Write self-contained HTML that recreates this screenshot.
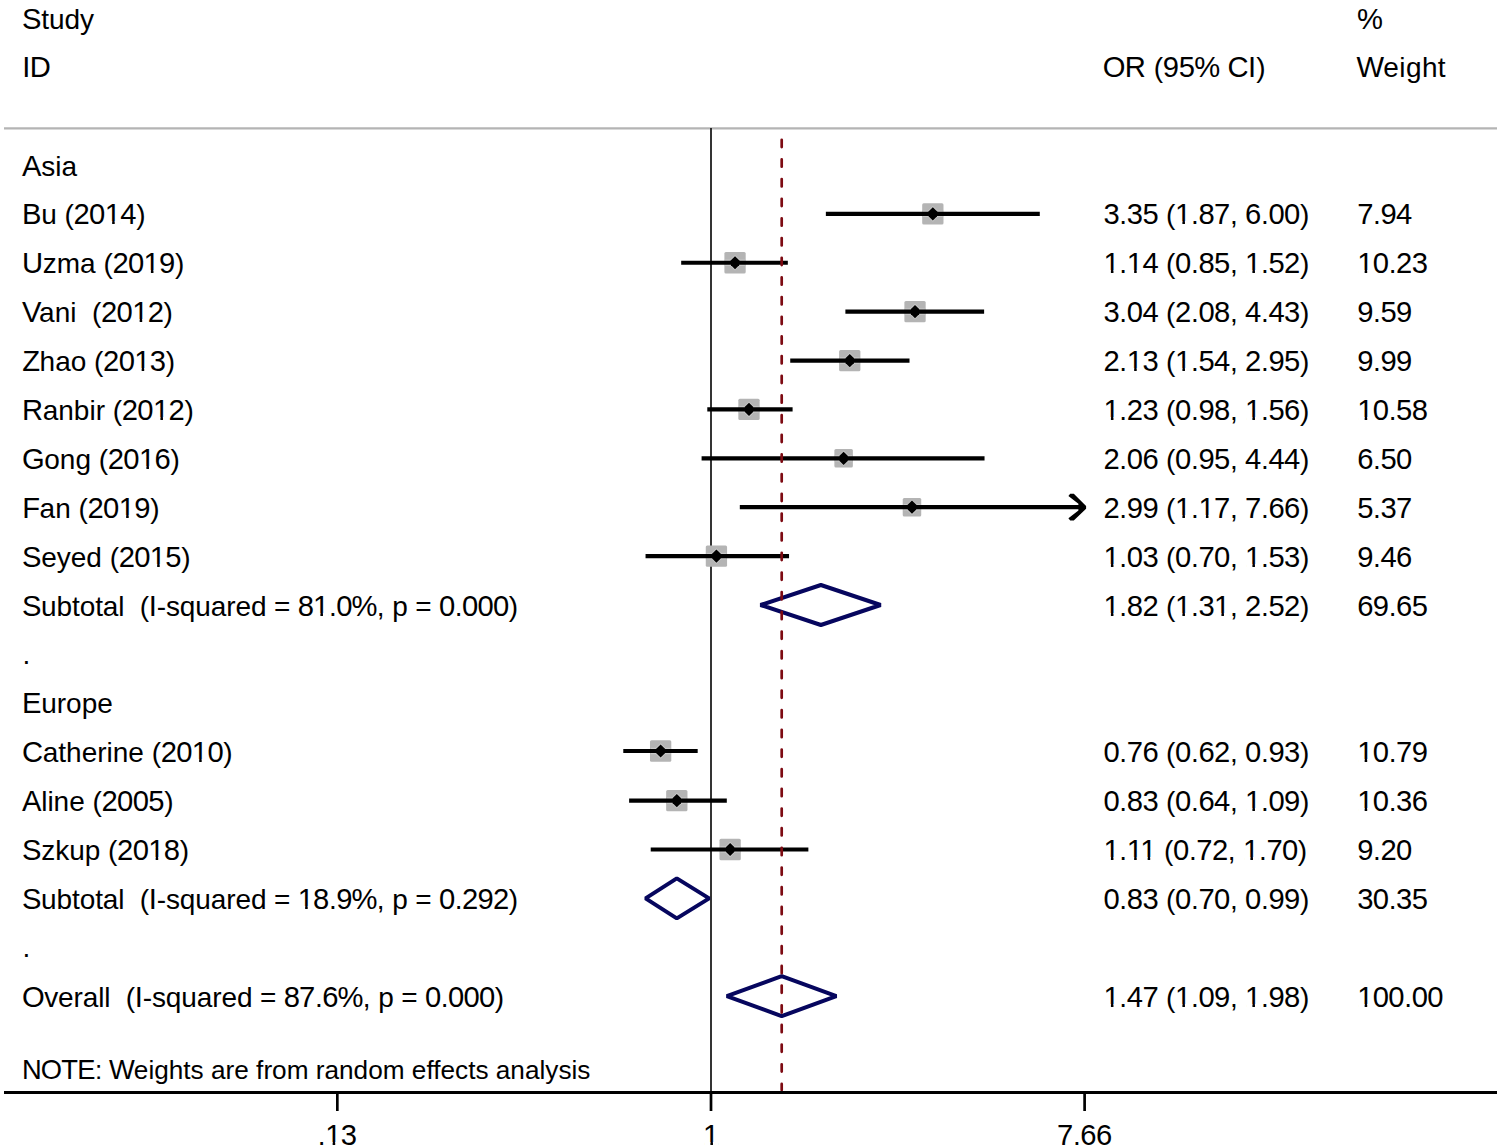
<!DOCTYPE html>
<html><head><meta charset="utf-8"><style>
html,body{margin:0;padding:0;background:#fff;overflow:hidden;}
svg{display:block;}
text{font-family:"Liberation Sans",sans-serif;fill:#000;white-space:pre;}
</style></head><body>
<svg width="1498" height="1148" viewBox="0 0 1498 1148">
<rect width="1498" height="1148" fill="#fff"/>
<line x1="4" y1="128.4" x2="1497" y2="128.4" stroke="#b4b4b4" stroke-width="2.2"/>
<line x1="711.00" y1="128" x2="711.00" y2="1092" stroke="#1e1e1e" stroke-width="1.8"/>
<rect x="922.19" y="203.19" width="21.3" height="21.3" rx="1.5" fill="#b4b4b4"/>
<rect x="724.39" y="252.09" width="21.3" height="21.3" rx="1.5" fill="#b4b4b4"/>
<rect x="904.38" y="300.99" width="21.3" height="21.3" rx="1.5" fill="#b4b4b4"/>
<rect x="839.10" y="349.88" width="21.3" height="21.3" rx="1.5" fill="#b4b4b4"/>
<rect x="738.34" y="398.78" width="21.3" height="21.3" rx="1.5" fill="#b4b4b4"/>
<rect x="834.37" y="449.07" width="18.5" height="18.5" rx="1.5" fill="#b4b4b4"/>
<rect x="902.73" y="497.97" width="18.5" height="18.5" rx="1.5" fill="#b4b4b4"/>
<rect x="705.77" y="545.46" width="21.3" height="21.3" rx="1.5" fill="#b4b4b4"/>
<rect x="649.99" y="740.35" width="21.3" height="21.3" rx="1.5" fill="#b4b4b4"/>
<rect x="666.16" y="789.94" width="21.3" height="21.3" rx="1.5" fill="#b4b4b4"/>
<rect x="719.50" y="838.83" width="21.3" height="21.3" rx="1.5" fill="#b4b4b4"/>
<line x1="922.99" y1="213.84" x2="942.69" y2="213.84" stroke="#c9c9c9" stroke-width="6.4"/>
<path d="M932.84,206.04 L938.14,211.25 L938.54,213.84 L938.14,216.44 L932.84,221.65 L927.54,216.44 L927.14,213.84 L927.54,211.25Z" fill="#c9c9c9"/>
<line x1="725.19" y1="262.74" x2="744.89" y2="262.74" stroke="#c9c9c9" stroke-width="6.4"/>
<path d="M735.04,254.94 L740.34,260.14 L740.74,262.74 L740.34,265.34 L735.04,270.54 L729.74,265.34 L729.34,262.74 L729.74,260.14Z" fill="#c9c9c9"/>
<line x1="905.18" y1="311.63" x2="924.88" y2="311.63" stroke="#c9c9c9" stroke-width="6.4"/>
<path d="M915.03,303.83 L920.33,309.03 L920.73,311.63 L920.33,314.24 L915.03,319.44 L909.73,314.24 L909.33,311.63 L909.73,309.03Z" fill="#c9c9c9"/>
<line x1="839.90" y1="360.53" x2="859.60" y2="360.53" stroke="#c9c9c9" stroke-width="6.4"/>
<path d="M849.75,352.73 L855.05,357.93 L855.45,360.53 L855.05,363.13 L849.75,368.33 L844.45,363.13 L844.05,360.53 L844.45,357.93Z" fill="#c9c9c9"/>
<line x1="739.14" y1="409.43" x2="758.84" y2="409.43" stroke="#c9c9c9" stroke-width="6.4"/>
<path d="M748.99,401.62 L754.29,406.82 L754.69,409.43 L754.29,412.03 L748.99,417.23 L743.69,412.03 L743.29,409.43 L743.69,406.82Z" fill="#c9c9c9"/>
<line x1="835.17" y1="458.32" x2="852.07" y2="458.32" stroke="#c9c9c9" stroke-width="6.4"/>
<path d="M843.62,450.52 L848.92,455.72 L849.32,458.32 L848.92,460.92 L843.62,466.12 L838.32,460.92 L837.92,458.32 L838.32,455.72Z" fill="#c9c9c9"/>
<line x1="903.53" y1="507.22" x2="920.43" y2="507.22" stroke="#c9c9c9" stroke-width="6.4"/>
<path d="M911.98,499.42 L917.28,504.62 L917.68,507.22 L917.28,509.82 L911.98,515.01 L906.68,509.82 L906.28,507.22 L906.68,504.62Z" fill="#c9c9c9"/>
<line x1="706.57" y1="556.11" x2="726.27" y2="556.11" stroke="#c9c9c9" stroke-width="6.4"/>
<path d="M716.42,548.31 L721.72,553.51 L722.12,556.11 L721.72,558.71 L716.42,563.91 L711.12,558.71 L710.72,556.11 L711.12,553.51Z" fill="#c9c9c9"/>
<line x1="650.79" y1="751.00" x2="670.49" y2="751.00" stroke="#c9c9c9" stroke-width="6.4"/>
<path d="M660.64,743.20 L665.94,748.40 L666.34,751.00 L665.94,753.60 L660.64,758.80 L655.34,753.60 L654.94,751.00 L655.34,748.40Z" fill="#c9c9c9"/>
<line x1="666.96" y1="800.59" x2="686.66" y2="800.59" stroke="#c9c9c9" stroke-width="6.4"/>
<path d="M676.81,792.79 L682.11,797.99 L682.51,800.59 L682.11,803.19 L676.81,808.38 L671.51,803.19 L671.11,800.59 L671.51,797.99Z" fill="#c9c9c9"/>
<line x1="720.30" y1="849.48" x2="740.00" y2="849.48" stroke="#c9c9c9" stroke-width="6.4"/>
<path d="M730.15,841.68 L735.45,846.88 L735.85,849.48 L735.45,852.08 L730.15,857.28 L724.85,852.08 L724.45,849.48 L724.85,846.88Z" fill="#c9c9c9"/>
<line x1="825.86" y1="213.84" x2="1039.79" y2="213.84" stroke="#000" stroke-width="4.2"/>
<line x1="681.18" y1="262.74" x2="787.83" y2="262.74" stroke="#000" stroke-width="4.2"/>
<line x1="845.39" y1="311.63" x2="984.12" y2="311.63" stroke="#000" stroke-width="4.2"/>
<line x1="790.23" y1="360.53" x2="909.51" y2="360.53" stroke="#000" stroke-width="4.2"/>
<line x1="707.29" y1="409.43" x2="792.60" y2="409.43" stroke="#000" stroke-width="4.2"/>
<line x1="701.59" y1="458.32" x2="984.54" y2="458.32" stroke="#000" stroke-width="4.2"/>
<line x1="739.81" y1="507.22" x2="1080.00" y2="507.22" stroke="#000" stroke-width="4.2"/>
<polygon points="1068.40,496.02 1070.20,493.82 1073.80,493.82 1086.10,505.92 1086.10,508.72 1073.80,520.42 1070.20,520.42 1068.40,518.22 1078.40,510.62 1078.40,503.82" fill="#000"/>
<line x1="645.55" y1="556.11" x2="789.04" y2="556.11" stroke="#000" stroke-width="4.2"/>
<line x1="623.28" y1="751.00" x2="697.68" y2="751.00" stroke="#000" stroke-width="4.2"/>
<line x1="629.11" y1="800.59" x2="726.81" y2="800.59" stroke="#000" stroke-width="4.2"/>
<line x1="650.72" y1="849.48" x2="808.37" y2="849.48" stroke="#000" stroke-width="4.2"/>
<path d="M932.84,207.25 L936.94,211.25 L937.34,213.84 L936.94,216.44 L932.84,220.44 L928.74,216.44 L928.34,213.84 L928.74,211.25Z" fill="#000"/>
<path d="M735.04,256.14 L739.14,260.14 L739.54,262.74 L739.14,265.34 L735.04,269.34 L730.94,265.34 L730.54,262.74 L730.94,260.14Z" fill="#000"/>
<path d="M915.03,305.03 L919.13,309.03 L919.53,311.63 L919.13,314.24 L915.03,318.24 L910.93,314.24 L910.53,311.63 L910.93,309.03Z" fill="#000"/>
<path d="M849.75,353.93 L853.85,357.93 L854.25,360.53 L853.85,363.13 L849.75,367.13 L845.65,363.13 L845.25,360.53 L845.65,357.93Z" fill="#000"/>
<path d="M748.99,402.82 L753.09,406.82 L753.49,409.43 L753.09,412.03 L748.99,416.03 L744.89,412.03 L744.49,409.43 L744.89,406.82Z" fill="#000"/>
<path d="M843.62,451.72 L847.72,455.72 L848.12,458.32 L847.72,460.92 L843.62,464.92 L839.52,460.92 L839.12,458.32 L839.52,455.72Z" fill="#000"/>
<path d="M911.98,500.62 L916.08,504.62 L916.48,507.22 L916.08,509.82 L911.98,513.82 L907.88,509.82 L907.48,507.22 L907.88,504.62Z" fill="#000"/>
<path d="M716.42,549.51 L720.52,553.51 L720.92,556.11 L720.52,558.71 L716.42,562.71 L712.32,558.71 L711.92,556.11 L712.32,553.51Z" fill="#000"/>
<path d="M660.64,744.40 L664.74,748.40 L665.14,751.00 L664.74,753.60 L660.64,757.60 L656.54,753.60 L656.14,751.00 L656.54,748.40Z" fill="#000"/>
<path d="M676.81,793.99 L680.91,797.99 L681.31,800.59 L680.91,803.19 L676.81,807.19 L672.71,803.19 L672.31,800.59 L672.71,797.99Z" fill="#000"/>
<path d="M730.15,842.88 L734.25,846.88 L734.65,849.48 L734.25,852.08 L730.15,856.08 L726.05,852.08 L725.65,849.48 L726.05,846.88Z" fill="#000"/>
<polygon points="760.55,605.00 820.89,585.00 880.60,605.00 820.89,625.00" fill="none" stroke="#06065e" stroke-width="4.0" stroke-linejoin="bevel"/>
<polygon points="645.55,898.38 676.81,878.38 709.16,898.38 676.81,918.38" fill="none" stroke="#06065e" stroke-width="4.0" stroke-linejoin="bevel"/>
<polygon points="726.81,996.16 781.70,976.16 836.35,996.16 781.70,1016.16" fill="none" stroke="#06065e" stroke-width="4.0" stroke-linejoin="bevel"/>
<line x1="781.70" y1="139.75" x2="781.70" y2="1090" stroke="#7d0a12" stroke-width="2.7" stroke-linecap="round" stroke-dasharray="7.3 12.37"/>
<line x1="4" y1="1092.4" x2="1497" y2="1092.4" stroke="#000" stroke-width="3"/>
<line x1="337.32" y1="1092" x2="337.32" y2="1111" stroke="#000" stroke-width="2.7"/>
<line x1="711.00" y1="1092" x2="711.00" y2="1111" stroke="#000" stroke-width="2.7"/>
<line x1="1084.61" y1="1092" x2="1084.61" y2="1111" stroke="#000" stroke-width="2.7"/>
<text x="22.10 41.17 48.95 64.52 80.09" y="29.30" font-size="28" xml:space="preserve"><tspan font-size="29.20">S</tspan>tudy</text>
<text x="22.33 29.83" y="77.30" font-size="28" xml:space="preserve"><tspan font-size="29.20">ID</tspan></text>
<text x="1102.83 1124.84 1145.70 1153.68 1162.87 1178.64 1194.21 1219.84 1227.39 1248.08 1256.22" y="77.30" font-size="28" xml:space="preserve"><tspan font-size="29.20">OR</tspan> (<tspan font-size="29.20">95%</tspan> <tspan font-size="29.20">CI</tspan>)</text>
<text x="1356.97" y="29.30" font-size="28" xml:space="preserve"><tspan font-size="29.20">%</tspan></text>
<text x="1356.43 1383.32 1399.29 1405.92 1421.89 1437.86" y="77.30" font-size="28" xml:space="preserve"><tspan font-size="29.20">W</tspan>eight</text>
<text x="22.10 41.17 55.17 61.39" y="175.55" font-size="28" xml:space="preserve"><tspan font-size="29.20">A</tspan>sia</text>
<text x="22.50" y="663.50" font-size="28" xml:space="preserve">.</text>
<text x="22.10 41.17 56.73 66.06 81.64 97.20" y="713.40" font-size="28" xml:space="preserve"><tspan font-size="29.20">E</tspan>urope</text>
<text x="22.50" y="956.87" font-size="28" xml:space="preserve">.</text>
<text x="22.10 41.17 56.73 64.52 73.51 89.09 104.65 120.23 136.14" y="224.44" font-size="28" xml:space="preserve"><tspan font-size="29.20">B</tspan>u (<tspan font-size="29.20">2014</tspan>)</text>
<text x="1103.47 1119.36 1126.81 1142.39 1158.28 1166.07 1175.06 1190.97 1198.40 1213.98 1229.89 1237.68 1245.11 1261.02 1268.47 1284.04 1299.94" y="224.44" font-size="28" xml:space="preserve"><tspan font-size="29.20">3</tspan>.<tspan font-size="29.20">35</tspan> (<tspan font-size="29.20">1</tspan>.<tspan font-size="29.20">87</tspan>, <tspan font-size="29.20">6</tspan>.<tspan font-size="29.20">00</tspan>)</text>
<text x="1357.17 1373.06 1380.51 1396.09" y="224.44" font-size="28" xml:space="preserve"><tspan font-size="29.20">7</tspan>.<tspan font-size="29.20">94</tspan></text>
<text x="22.07 42.72 56.72 80.03 95.61 103.39 112.39 127.95 143.53 159.10 175.00" y="273.34" font-size="28" xml:space="preserve"><tspan font-size="29.20">U</tspan>zma (<tspan font-size="29.20">2019</tspan>)</text>
<text x="1103.47 1119.36 1126.81 1142.39 1158.28 1166.07 1175.06 1190.97 1198.40 1213.98 1229.89 1237.68 1245.11 1261.02 1268.47 1284.04 1299.94" y="273.34" font-size="28" xml:space="preserve"><tspan font-size="29.20">1</tspan>.<tspan font-size="29.20">14</tspan> (<tspan font-size="29.20">0</tspan>.<tspan font-size="29.20">85</tspan>, <tspan font-size="29.20">1</tspan>.<tspan font-size="29.20">52</tspan>)</text>
<text x="1357.17 1372.73 1388.64 1396.09 1411.65" y="273.34" font-size="28" xml:space="preserve"><tspan font-size="29.20">10</tspan>.<tspan font-size="29.20">23</tspan></text>
<text x="22.10 39.09 54.66 70.23 76.45 84.23 92.02 101.01 116.57 132.15 147.73 163.62" y="322.24" font-size="28" xml:space="preserve"><tspan font-size="29.20">V</tspan>ani&#160; (<tspan font-size="29.20">2012</tspan>)</text>
<text x="1103.47 1119.36 1126.81 1142.39 1158.28 1166.07 1175.06 1190.97 1198.40 1213.98 1229.89 1237.68 1245.11 1261.02 1268.47 1284.04 1299.94" y="322.24" font-size="28" xml:space="preserve"><tspan font-size="29.20">3</tspan>.<tspan font-size="29.20">04</tspan> (<tspan font-size="29.20">2</tspan>.<tspan font-size="29.20">08</tspan>, <tspan font-size="29.20">4</tspan>.<tspan font-size="29.20">43</tspan>)</text>
<text x="1357.17 1373.06 1380.51 1396.09" y="322.24" font-size="28" xml:space="preserve"><tspan font-size="29.20">9</tspan>.<tspan font-size="29.20">59</tspan></text>
<text x="22.13 39.59 55.17 70.73 86.31 94.09 103.09 118.65 134.23 149.81 165.70" y="371.13" font-size="28" xml:space="preserve"><tspan font-size="29.20">Z</tspan>hao (<tspan font-size="29.20">2013</tspan>)</text>
<text x="1103.47 1119.36 1126.81 1142.39 1158.28 1166.07 1175.06 1190.97 1198.40 1213.98 1229.89 1237.68 1245.11 1261.02 1268.47 1284.04 1299.94" y="371.13" font-size="28" xml:space="preserve"><tspan font-size="29.20">2</tspan>.<tspan font-size="29.20">13</tspan> (<tspan font-size="29.20">1</tspan>.<tspan font-size="29.20">54</tspan>, <tspan font-size="29.20">2</tspan>.<tspan font-size="29.20">95</tspan>)</text>
<text x="1357.17 1373.06 1380.51 1396.09" y="371.13" font-size="28" xml:space="preserve"><tspan font-size="29.20">9</tspan>.<tspan font-size="29.20">99</tspan></text>
<text x="22.07 42.72 58.28 73.86 89.44 95.66 104.97 112.75 121.74 137.32 152.89 168.46 184.38" y="420.03" font-size="28" xml:space="preserve"><tspan font-size="29.20">R</tspan>anbir (<tspan font-size="29.20">2012</tspan>)</text>
<text x="1103.47 1119.36 1126.81 1142.39 1158.28 1166.07 1175.06 1190.97 1198.40 1213.98 1229.89 1237.68 1245.11 1261.02 1268.47 1284.04 1299.94" y="420.03" font-size="28" xml:space="preserve"><tspan font-size="29.20">1</tspan>.<tspan font-size="29.20">23</tspan> (<tspan font-size="29.20">0</tspan>.<tspan font-size="29.20">98</tspan>, <tspan font-size="29.20">1</tspan>.<tspan font-size="29.20">56</tspan>)</text>
<text x="1357.17 1372.73 1388.64 1396.09 1411.65" y="420.03" font-size="28" xml:space="preserve"><tspan font-size="29.20">10</tspan>.<tspan font-size="29.20">58</tspan></text>
<text x="22.03 44.27 59.84 75.42 90.98 98.77 107.76 123.34 138.90 154.48 170.38" y="468.92" font-size="28" xml:space="preserve"><tspan font-size="29.20">G</tspan>ong (<tspan font-size="29.20">2016</tspan>)</text>
<text x="1103.47 1119.36 1126.81 1142.39 1158.28 1166.07 1175.06 1190.97 1198.40 1213.98 1229.89 1237.68 1245.11 1261.02 1268.47 1284.04 1299.94" y="468.92" font-size="28" xml:space="preserve"><tspan font-size="29.20">2</tspan>.<tspan font-size="29.20">06</tspan> (<tspan font-size="29.20">0</tspan>.<tspan font-size="29.20">95</tspan>, <tspan font-size="29.20">4</tspan>.<tspan font-size="29.20">44</tspan>)</text>
<text x="1357.17 1373.06 1380.51 1396.09" y="468.92" font-size="28" xml:space="preserve"><tspan font-size="29.20">6</tspan>.<tspan font-size="29.20">50</tspan></text>
<text x="22.13 39.59 55.17 70.73 78.52 87.51 103.09 118.65 134.23 150.14" y="517.82" font-size="28" xml:space="preserve"><tspan font-size="29.20">F</tspan>an (<tspan font-size="29.20">2019</tspan>)</text>
<text x="1103.47 1119.36 1126.81 1142.39 1158.28 1166.07 1175.06 1190.97 1198.40 1213.98 1229.89 1237.68 1245.11 1261.02 1268.47 1284.04 1299.94" y="517.82" font-size="28" xml:space="preserve"><tspan font-size="29.20">2</tspan>.<tspan font-size="29.20">99</tspan> (<tspan font-size="29.20">1</tspan>.<tspan font-size="29.20">17</tspan>, <tspan font-size="29.20">7</tspan>.<tspan font-size="29.20">66</tspan>)</text>
<text x="1357.17 1373.06 1380.51 1396.09" y="517.82" font-size="28" xml:space="preserve"><tspan font-size="29.20">5</tspan>.<tspan font-size="29.20">37</tspan></text>
<text x="22.10 41.17 56.73 70.73 86.31 101.89 109.67 118.65 134.23 149.81 165.37 181.28" y="566.71" font-size="28" xml:space="preserve"><tspan font-size="29.20">S</tspan>eyed (<tspan font-size="29.20">2015</tspan>)</text>
<text x="1103.47 1119.36 1126.81 1142.39 1158.28 1166.07 1175.06 1190.97 1198.40 1213.98 1229.89 1237.68 1245.11 1261.02 1268.47 1284.04 1299.94" y="566.71" font-size="28" xml:space="preserve"><tspan font-size="29.20">1</tspan>.<tspan font-size="29.20">03</tspan> (<tspan font-size="29.20">0</tspan>.<tspan font-size="29.20">70</tspan>, <tspan font-size="29.20">1</tspan>.<tspan font-size="29.20">53</tspan>)</text>
<text x="1357.17 1373.06 1380.51 1396.09" y="566.71" font-size="28" xml:space="preserve"><tspan font-size="29.20">9</tspan>.<tspan font-size="29.20">46</tspan></text>
<text x="22.07 42.72 58.28 66.06 81.64 97.20 106.53 112.75 128.33 143.91 151.67 160.67 176.24 191.81 207.39 223.30" y="762.29" font-size="28" xml:space="preserve"><tspan font-size="29.20">C</tspan>atherine (<tspan font-size="29.20">2010</tspan>)</text>
<text x="1103.47 1119.36 1126.81 1142.39 1158.28 1166.07 1175.06 1190.97 1198.40 1213.98 1229.89 1237.68 1245.11 1261.02 1268.47 1284.04 1299.94" y="762.29" font-size="28" xml:space="preserve"><tspan font-size="29.20">0</tspan>.<tspan font-size="29.20">76</tspan> (<tspan font-size="29.20">0</tspan>.<tspan font-size="29.20">62</tspan>, <tspan font-size="29.20">0</tspan>.<tspan font-size="29.20">93</tspan>)</text>
<text x="1357.17 1372.73 1388.64 1396.09 1411.65" y="762.29" font-size="28" xml:space="preserve"><tspan font-size="29.20">10</tspan>.<tspan font-size="29.20">79</tspan></text>
<text x="22.10 41.17 47.39 53.61 69.19 84.75 92.53 101.53 117.10 132.67 148.24 164.14" y="811.19" font-size="28" xml:space="preserve"><tspan font-size="29.20">A</tspan>line (<tspan font-size="29.20">2005</tspan>)</text>
<text x="1103.47 1119.36 1126.81 1142.39 1158.28 1166.07 1175.06 1190.97 1198.40 1213.98 1229.89 1237.68 1245.11 1261.02 1268.47 1284.04 1299.94" y="811.19" font-size="28" xml:space="preserve"><tspan font-size="29.20">0</tspan>.<tspan font-size="29.20">83</tspan> (<tspan font-size="29.20">0</tspan>.<tspan font-size="29.20">64</tspan>, <tspan font-size="29.20">1</tspan>.<tspan font-size="29.20">09</tspan>)</text>
<text x="1357.17 1372.73 1388.64 1396.09 1411.65" y="811.19" font-size="28" xml:space="preserve"><tspan font-size="29.20">10</tspan>.<tspan font-size="29.20">36</tspan></text>
<text x="22.10 41.17 55.17 69.17 84.73 100.31 108.09 117.09 132.65 148.23 163.81 179.70" y="860.08" font-size="28" xml:space="preserve"><tspan font-size="29.20">S</tspan>zkup (<tspan font-size="29.20">2018</tspan>)</text>
<text x="1103.47 1119.36 1126.81 1140.31 1156.21 1163.99 1172.98 1188.89 1196.33 1211.90 1227.82 1235.60 1243.03 1258.94 1266.39 1281.97 1297.86" y="860.08" font-size="28" xml:space="preserve"><tspan font-size="29.20">1</tspan>.<tspan font-size="29.20">11</tspan> (<tspan font-size="29.20">0</tspan>.<tspan font-size="29.20">72</tspan>, <tspan font-size="29.20">1</tspan>.<tspan font-size="29.20">70</tspan>)</text>
<text x="1357.17 1373.06 1380.51 1396.09" y="860.08" font-size="28" xml:space="preserve"><tspan font-size="29.20">9</tspan>.<tspan font-size="29.20">20</tspan></text>
<text x="22.10 41.08 56.55 72.02 79.70 95.17 102.84 118.31 124.44 132.11 139.79 148.84 156.68 165.90 179.80 195.27 210.74 226.21 235.43 250.90 266.37 274.04 290.30 297.64 313.11 328.91 336.25 351.52 376.86 384.53 392.20 407.67 415.35 431.60 438.94 454.75 462.09 477.56 493.03 508.83" y="615.61" font-size="28" xml:space="preserve"><tspan font-size="29.20">S</tspan>ubtotal&#160; (<tspan font-size="29.20">I</tspan>-squared = <tspan font-size="29.20">81</tspan>.<tspan font-size="29.20">0%</tspan>, p = <tspan font-size="29.20">0</tspan>.<tspan font-size="29.20">000</tspan>)</text>
<text x="1103.47 1119.36 1126.81 1142.39 1158.28 1166.07 1175.06 1190.97 1198.40 1213.98 1229.89 1237.68 1245.11 1261.02 1268.47 1284.04 1299.94" y="615.61" font-size="28" xml:space="preserve"><tspan font-size="29.20">1</tspan>.<tspan font-size="29.20">82</tspan> (<tspan font-size="29.20">1</tspan>.<tspan font-size="29.20">31</tspan>, <tspan font-size="29.20">2</tspan>.<tspan font-size="29.20">52</tspan>)</text>
<text x="1357.17 1372.73 1388.64 1396.09 1411.65" y="615.61" font-size="28" xml:space="preserve"><tspan font-size="29.20">69</tspan>.<tspan font-size="29.20">65</tspan></text>
<text x="22.10 41.08 56.55 72.02 79.70 95.17 102.84 118.31 124.44 132.11 139.79 148.84 156.68 165.90 179.80 195.27 210.74 226.21 235.43 250.90 266.37 274.04 290.30 297.64 313.11 328.91 336.25 351.52 376.86 384.53 392.20 407.67 415.35 431.60 438.94 454.75 462.09 477.56 493.03 508.83" y="908.98" font-size="28" xml:space="preserve"><tspan font-size="29.20">S</tspan>ubtotal&#160; (<tspan font-size="29.20">I</tspan>-squared = <tspan font-size="29.20">18</tspan>.<tspan font-size="29.20">9%</tspan>, p = <tspan font-size="29.20">0</tspan>.<tspan font-size="29.20">292</tspan>)</text>
<text x="1103.47 1119.36 1126.81 1142.39 1158.28 1166.07 1175.06 1190.97 1198.40 1213.98 1229.89 1237.68 1245.11 1261.02 1268.47 1284.04 1299.94" y="908.98" font-size="28" xml:space="preserve"><tspan font-size="29.20">0</tspan>.<tspan font-size="29.20">83</tspan> (<tspan font-size="29.20">0</tspan>.<tspan font-size="29.20">70</tspan>, <tspan font-size="29.20">0</tspan>.<tspan font-size="29.20">99</tspan>)</text>
<text x="1357.17 1372.73 1388.64 1396.09 1411.65" y="908.98" font-size="28" xml:space="preserve"><tspan font-size="29.20">30</tspan>.<tspan font-size="29.20">35</tspan></text>
<text x="22.03 44.17 58.06 73.53 82.75 98.22 104.34 110.47 118.14 125.81 134.86 142.70 151.92 165.81 181.28 196.74 212.21 221.43 236.90 252.37 260.04 276.29 283.63 299.09 314.90 322.23 337.50 362.83 370.50 378.18 393.64 401.32 417.57 424.90 440.71 448.04 463.51 478.98 494.78" y="1006.76" font-size="28" xml:space="preserve"><tspan font-size="29.20">O</tspan>verall&#160; (<tspan font-size="29.20">I</tspan>-squared = <tspan font-size="29.20">87</tspan>.<tspan font-size="29.20">6%</tspan>, p = <tspan font-size="29.20">0</tspan>.<tspan font-size="29.20">000</tspan>)</text>
<text x="1103.47 1119.36 1126.81 1142.39 1158.28 1166.07 1175.06 1190.97 1198.40 1213.98 1229.89 1237.68 1245.11 1261.02 1268.47 1284.04 1299.94" y="1006.76" font-size="28" xml:space="preserve"><tspan font-size="29.20">1</tspan>.<tspan font-size="29.20">47</tspan> (<tspan font-size="29.20">1</tspan>.<tspan font-size="29.20">09</tspan>, <tspan font-size="29.20">1</tspan>.<tspan font-size="29.20">98</tspan>)</text>
<text x="1357.17 1372.73 1388.31 1404.20 1411.65 1427.23" y="1006.76" font-size="28" xml:space="preserve"><tspan font-size="29.20">100</tspan>.<tspan font-size="29.20">00</tspan></text>
<text x="21.89 40.77 61.24 77.19 95.03 102.32 109.05 133.83 148.39 154.21 168.78 183.35 190.61 203.71 210.99 225.55 234.27 248.83 256.11 263.39 272.11 286.67 308.49 315.77 324.49 339.05 353.61 368.17 382.74 404.55 411.83 426.39 433.19 440.47 455.03 468.13 475.41 488.50 495.78 510.35 524.91 539.47 545.28 558.38 571.47 577.30" y="1079.00" font-size="26.2" xml:space="preserve"><tspan font-size="27.32">NOTE</tspan>: <tspan font-size="27.32">W</tspan>eights are from random effects analysis</text>
<text x="317.85 325.28 340.86" y="1144.80" font-size="28" xml:space="preserve">.<tspan font-size="29.20">13</tspan></text>
<text x="702.88" y="1144.80" font-size="28" xml:space="preserve"><tspan font-size="29.20">1</tspan></text>
<text x="1057.03 1072.92 1080.37 1095.95" y="1144.80" font-size="28" xml:space="preserve"><tspan font-size="29.20">7</tspan>.<tspan font-size="29.20">66</tspan></text>
<rect x="105.95" y="221.00" width="6.203" height="3.40" fill="#fff"/>
<rect x="114.703" y="221.00" width="5.79" height="3.40" fill="#fff"/>
<rect x="1176.20" y="221.00" width="6.203" height="3.40" fill="#fff"/>
<rect x="1184.953" y="221.00" width="5.79" height="3.40" fill="#fff"/>
<rect x="144.70" y="270.00" width="6.203" height="3.40" fill="#fff"/>
<rect x="153.453" y="270.00" width="5.79" height="3.40" fill="#fff"/>
<rect x="1104.70" y="270.00" width="6.203" height="3.40" fill="#fff"/>
<rect x="1113.453" y="270.00" width="5.79" height="3.40" fill="#fff"/>
<rect x="1127.95" y="270.00" width="6.203" height="3.40" fill="#fff"/>
<rect x="1136.703" y="270.00" width="5.79" height="3.40" fill="#fff"/>
<rect x="1246.20" y="270.00" width="6.203" height="3.40" fill="#fff"/>
<rect x="1254.953" y="270.00" width="5.79" height="3.40" fill="#fff"/>
<rect x="1358.45" y="270.00" width="6.203" height="3.40" fill="#fff"/>
<rect x="1367.203" y="270.00" width="5.79" height="3.40" fill="#fff"/>
<rect x="133.45" y="319.00" width="6.203" height="3.40" fill="#fff"/>
<rect x="142.203" y="319.00" width="5.79" height="3.40" fill="#fff"/>
<rect x="135.45" y="368.00" width="6.203" height="3.40" fill="#fff"/>
<rect x="144.203" y="368.00" width="5.79" height="3.40" fill="#fff"/>
<rect x="1127.95" y="368.00" width="6.203" height="3.40" fill="#fff"/>
<rect x="1136.703" y="368.00" width="5.79" height="3.40" fill="#fff"/>
<rect x="1176.20" y="368.00" width="6.203" height="3.40" fill="#fff"/>
<rect x="1184.953" y="368.00" width="5.79" height="3.40" fill="#fff"/>
<rect x="154.20" y="417.00" width="6.203" height="3.40" fill="#fff"/>
<rect x="162.953" y="417.00" width="5.79" height="3.40" fill="#fff"/>
<rect x="1104.70" y="417.00" width="6.203" height="3.40" fill="#fff"/>
<rect x="1113.453" y="417.00" width="5.79" height="3.40" fill="#fff"/>
<rect x="1246.20" y="417.00" width="6.203" height="3.40" fill="#fff"/>
<rect x="1254.953" y="417.00" width="5.79" height="3.40" fill="#fff"/>
<rect x="1358.45" y="417.00" width="6.203" height="3.40" fill="#fff"/>
<rect x="1367.203" y="417.00" width="5.79" height="3.40" fill="#fff"/>
<rect x="140.20" y="466.00" width="6.203" height="3.40" fill="#fff"/>
<rect x="148.953" y="466.00" width="5.79" height="3.40" fill="#fff"/>
<rect x="119.95" y="515.00" width="6.203" height="3.40" fill="#fff"/>
<rect x="128.703" y="515.00" width="5.79" height="3.40" fill="#fff"/>
<rect x="1176.20" y="515.00" width="6.203" height="3.40" fill="#fff"/>
<rect x="1184.953" y="515.00" width="5.79" height="3.40" fill="#fff"/>
<rect x="1199.70" y="515.00" width="6.203" height="3.40" fill="#fff"/>
<rect x="1208.453" y="515.00" width="5.79" height="3.40" fill="#fff"/>
<rect x="150.95" y="564.00" width="6.203" height="3.40" fill="#fff"/>
<rect x="159.703" y="564.00" width="5.79" height="3.40" fill="#fff"/>
<rect x="1104.70" y="564.00" width="6.203" height="3.40" fill="#fff"/>
<rect x="1113.453" y="564.00" width="5.79" height="3.40" fill="#fff"/>
<rect x="1246.20" y="564.00" width="6.203" height="3.40" fill="#fff"/>
<rect x="1254.953" y="564.00" width="5.79" height="3.40" fill="#fff"/>
<rect x="192.95" y="759.00" width="6.203" height="3.40" fill="#fff"/>
<rect x="201.703" y="759.00" width="5.79" height="3.40" fill="#fff"/>
<rect x="1358.45" y="759.00" width="6.203" height="3.40" fill="#fff"/>
<rect x="1367.203" y="759.00" width="5.79" height="3.40" fill="#fff"/>
<rect x="1246.20" y="808.00" width="6.203" height="3.40" fill="#fff"/>
<rect x="1254.953" y="808.00" width="5.79" height="3.40" fill="#fff"/>
<rect x="1358.45" y="808.00" width="6.203" height="3.40" fill="#fff"/>
<rect x="1367.203" y="808.00" width="5.79" height="3.40" fill="#fff"/>
<rect x="149.45" y="857.00" width="6.203" height="3.40" fill="#fff"/>
<rect x="158.203" y="857.00" width="5.79" height="3.40" fill="#fff"/>
<rect x="1104.70" y="857.00" width="6.203" height="3.40" fill="#fff"/>
<rect x="1113.453" y="857.00" width="5.79" height="3.40" fill="#fff"/>
<rect x="1127.95" y="857.00" width="6.203" height="3.40" fill="#fff"/>
<rect x="1136.703" y="857.00" width="5.79" height="3.40" fill="#fff"/>
<rect x="1141.45" y="857.00" width="6.203" height="3.40" fill="#fff"/>
<rect x="1150.203" y="857.00" width="5.79" height="3.40" fill="#fff"/>
<rect x="1244.20" y="857.00" width="6.203" height="3.40" fill="#fff"/>
<rect x="1252.953" y="857.00" width="5.79" height="3.40" fill="#fff"/>
<rect x="314.20" y="613.00" width="6.203" height="3.40" fill="#fff"/>
<rect x="322.953" y="613.00" width="5.79" height="3.40" fill="#fff"/>
<rect x="1104.70" y="613.00" width="6.203" height="3.40" fill="#fff"/>
<rect x="1113.453" y="613.00" width="5.79" height="3.40" fill="#fff"/>
<rect x="1176.20" y="613.00" width="6.203" height="3.40" fill="#fff"/>
<rect x="1184.953" y="613.00" width="5.79" height="3.40" fill="#fff"/>
<rect x="1215.20" y="613.00" width="6.203" height="3.40" fill="#fff"/>
<rect x="1223.953" y="613.00" width="5.79" height="3.40" fill="#fff"/>
<rect x="298.95" y="906.00" width="6.203" height="3.40" fill="#fff"/>
<rect x="307.703" y="906.00" width="5.79" height="3.40" fill="#fff"/>
<rect x="1104.70" y="1004.00" width="6.203" height="3.40" fill="#fff"/>
<rect x="1113.453" y="1004.00" width="5.79" height="3.40" fill="#fff"/>
<rect x="1176.20" y="1004.00" width="6.203" height="3.40" fill="#fff"/>
<rect x="1184.953" y="1004.00" width="5.79" height="3.40" fill="#fff"/>
<rect x="1246.20" y="1004.00" width="6.203" height="3.40" fill="#fff"/>
<rect x="1254.953" y="1004.00" width="5.79" height="3.40" fill="#fff"/>
<rect x="1358.45" y="1004.00" width="6.203" height="3.40" fill="#fff"/>
<rect x="1367.203" y="1004.00" width="5.79" height="3.40" fill="#fff"/>
<rect x="326.45" y="1142.00" width="6.203" height="3.40" fill="#fff"/>
<rect x="335.203" y="1142.00" width="5.79" height="3.40" fill="#fff"/>
<rect x="704.20" y="1142.00" width="6.203" height="3.40" fill="#fff"/>
<rect x="712.953" y="1142.00" width="5.79" height="3.40" fill="#fff"/>
</svg>
</body></html>
